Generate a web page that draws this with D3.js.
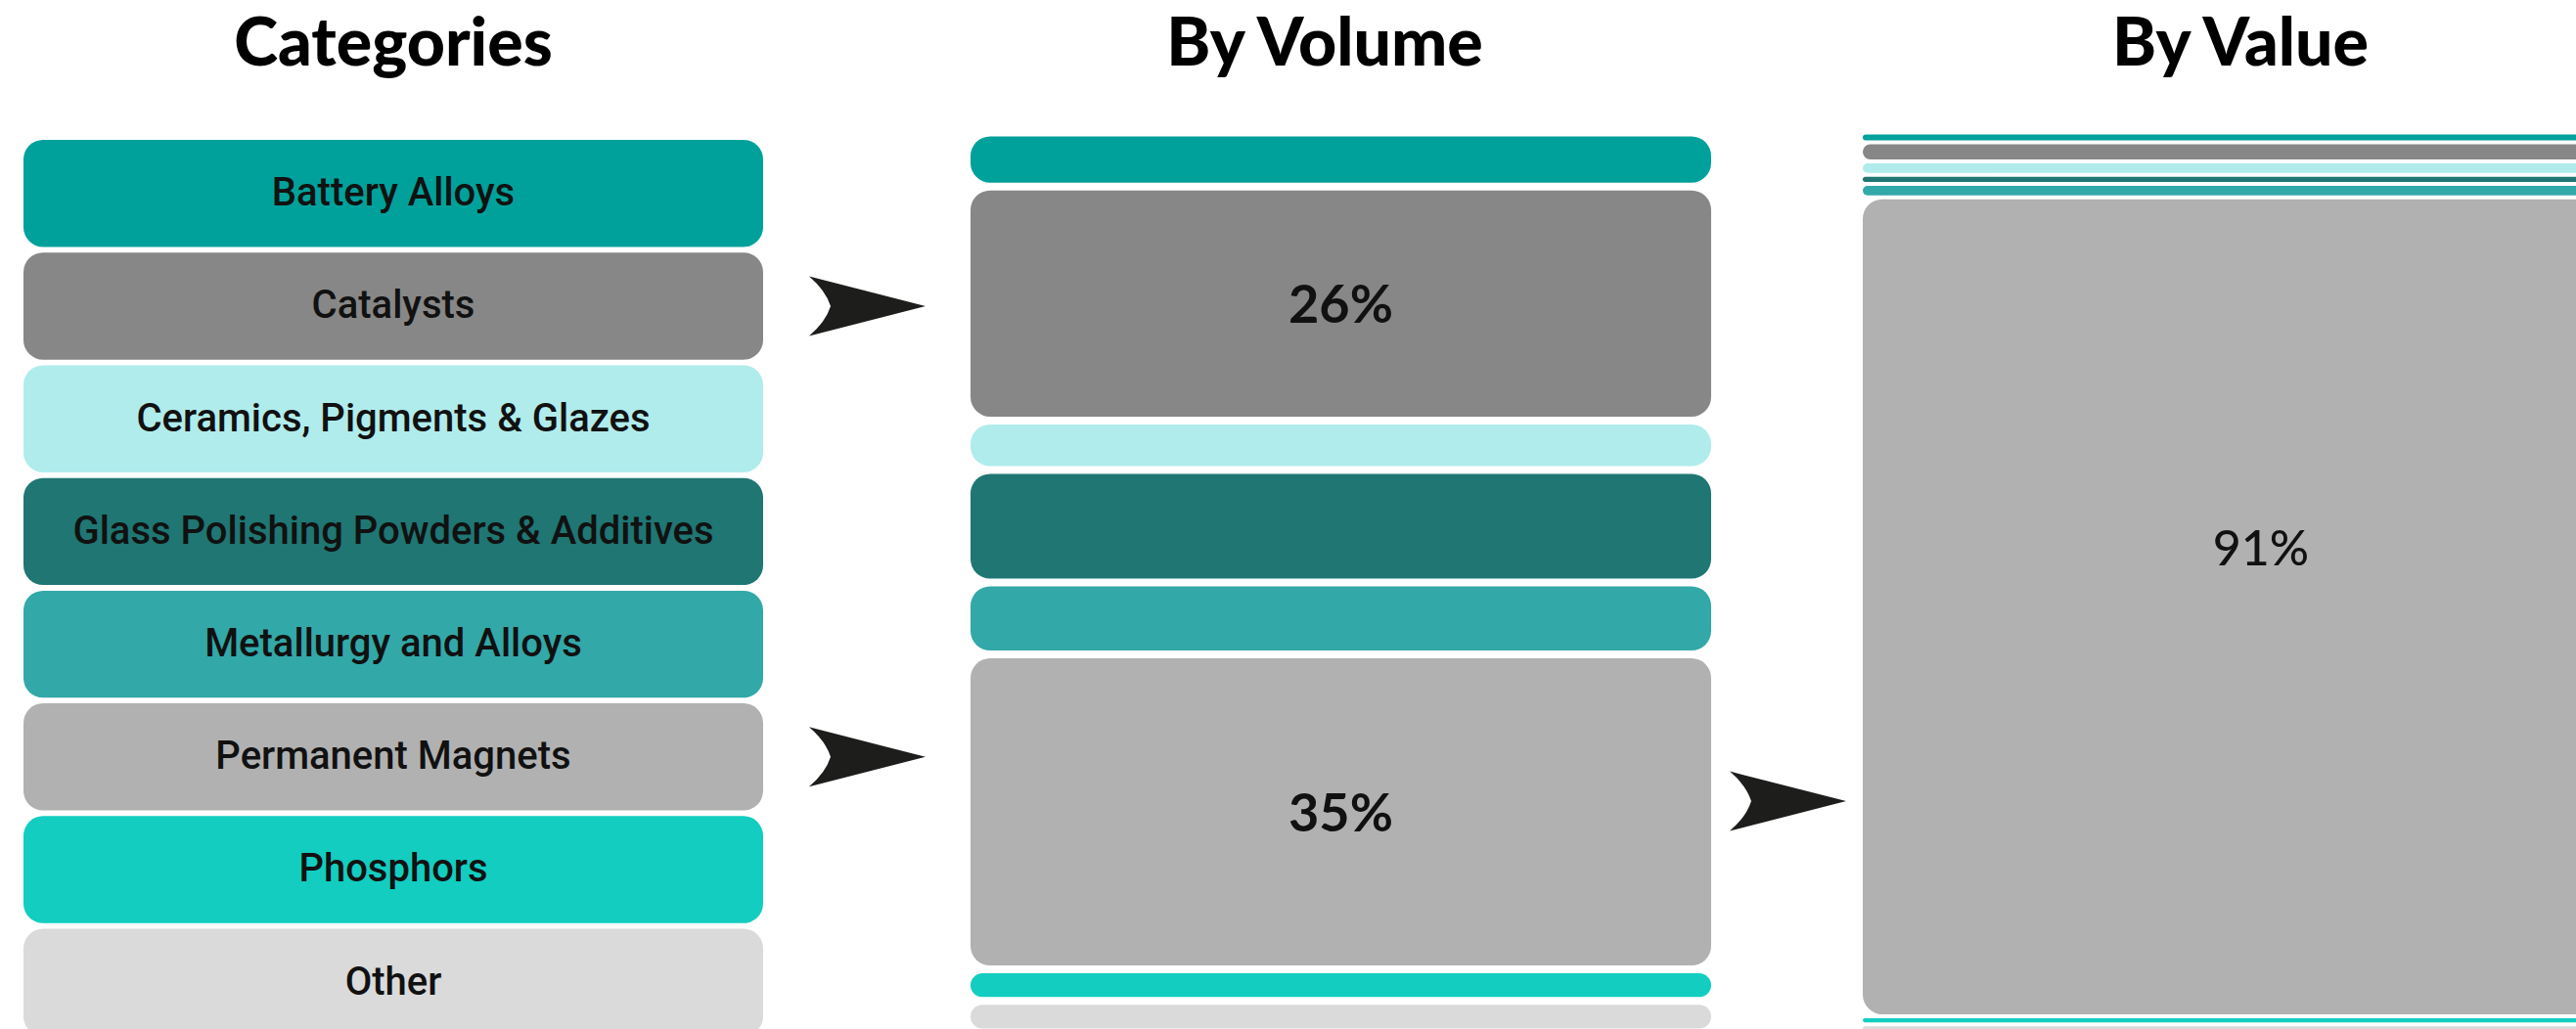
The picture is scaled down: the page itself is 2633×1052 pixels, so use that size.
<!DOCTYPE html>
<html>
<head>
<meta charset="utf-8">
<script src="https://cdn.jsdelivr.net/npm/d3@7/dist/d3.min.js"></script>
<style>
  html, body { margin: 0; padding: 0; background: #ffffff; }
  svg { display: block; }
</style>
</head>
<body>
<svg id="chart" width="2633" height="1052"></svg>
<script>
// Rare earth end uses: share of demand by volume and by value (%)
const categories = [
  "Battery Alloys",
  "Catalysts",
  "Ceramics, Pigments & Glazes",
  "Glass Polishing Powders & Additives",
  "Metallurgy and Alloys",
  "Permanent Magnets",
  "Phosphors",
  "Other"
];
const categoryColors = [
  "#00a19a", "#878787", "#b0ecec", "#1f7673",
  "#33a8a8", "#b1b1b1", "#12cdc0", "#dadada"
];
const volumeShare = [6, 26, 5.5, 12.5, 8, 35, 3.5, 3.5];
const valueShare  = [1.1, 2.1, 1.5, 1.0, 1.5, 91, 0.9, 0.9];
const columnTitles = ["Categories", "By Volume", "By Value"];

const svg = d3.select("#chart");
const ink = "#111111";
const color = d3.scaleOrdinal().domain(categories).range(categoryColors);

// ---- layout
const catX = [24, 780];
const volX = [992, 1749];
const valX = [1904, 2718];
const yCat = d3.scaleBand().domain(categories).range([143, 1059]).paddingInner(0.05);
const yShare = d3.scaleLinear().domain([0, 100]).range([135.5, 1055.5]);

function stackOf(values) {
  const ends = Array.from(d3.cumsum(values));
  return values.map((v, i) => ({ key: categories[i], value: v, start: ends[i] - v, end: ends[i] }));
}

// ---- column titles
const titleX = [(catX[0] + catX[1]) / 2, 1354, 2290];
svg.selectAll("text.title").data(columnTitles).join("text")
  .attr("class", "title")
  .attr("x", (d, i) => titleX[i])
  .attr("y", 67)
  .attr("text-anchor", "middle")
  .attr("font-family", "Lato, 'Noto Sans', sans-serif")
  .attr("font-weight", 900)
  .attr("font-size", 68)
  .attr("fill", "#000")
  .text(d => d);

// ---- category boxes
const cat = svg.append("g").selectAll("g").data(categories).join("g");
cat.append("rect")
  .attr("x", catX[0])
  .attr("y", d => yCat(d))
  .attr("width", catX[1] - catX[0])
  .attr("height", yCat.bandwidth())
  .attr("rx", 20)
  .attr("fill", d => color(d));
cat.append("text")
  .attr("x", (catX[0] + catX[1]) / 2)
  .attr("y", d => yCat(d) + yCat.bandwidth() / 2 - 2)
  .attr("dy", "0.36em")
  .attr("text-anchor", "middle")
  .attr("font-family", "Roboto, 'Noto Sans', sans-serif")
  .attr("font-weight", 500)
  .attr("font-size", 40)
  .attr("fill", ink)
  .text(d => d);

// ---- stacked share columns
function drawColumn(values, x0, x1, gap, labelOpts) {
  const data = stackOf(values);
  const g = svg.append("g");
  g.selectAll("rect").data(data).join("rect")
    .attr("x", x0)
    .attr("y", d => yShare(d.start) + gap / 2)
    .attr("width", x1 - x0)
    .attr("height", d => Math.max(0, yShare(d.end) - yShare(d.start) - gap))
    .attr("rx", d => Math.min(20, (yShare(d.end) - yShare(d.start) - gap) / 2))
    .attr("fill", d => color(d.key));
  g.selectAll("text").data(data.filter(d => d.value >= 20)).join("text")
    .attr("x", (x0 + x1) / 2)
    .attr("y", d => {
      const top = yShare(d.start) + gap / 2;
      const h = yShare(d.end) - yShare(d.start) - gap;
      return top + h * labelOpts.pos;
    })
    .attr("dy", "0.36em")
    .attr("text-anchor", "middle")
    .attr("font-family", "Lato, 'Noto Sans', sans-serif")
    .attr("font-weight", labelOpts.weight)
    .attr("font-size", labelOpts.size)
    .attr("fill", ink)
    .text(d => d3.format(".0f")(d.value) + "%");
  return data;
}
const volData = drawColumn(volumeShare, volX[0], volX[1], 8, { pos: 0.5, weight: 700, size: 54 });
drawColumn(valueShare, valX[0], valX[1], 4, { pos: 0.427, weight: 500, size: 50 });

// ---- arrows
const arrowPath = "M-59,-30.5 L60,0 L-59,30.5 Q-42,16 -37,0 Q-42,-16 -59,-30.5 Z";
const magnetsVol = volData.find(d => d.key === "Permanent Magnets");
const arrows = [
  { x: 886, y: yCat("Catalysts") + yCat.bandwidth() / 2 },
  { x: 886, y: yCat("Permanent Magnets") + yCat.bandwidth() / 2 },
  { x: 1827, y: (yShare(magnetsVol.start) + yShare(magnetsVol.end)) / 2 - 11 }
];
svg.append("g").selectAll("path").data(arrows).join("path")
  .attr("d", arrowPath)
  .attr("transform", d => `translate(${d.x},${d.y})`)
  .attr("fill", "#1d1d1b");
</script>
</body>
</html>
